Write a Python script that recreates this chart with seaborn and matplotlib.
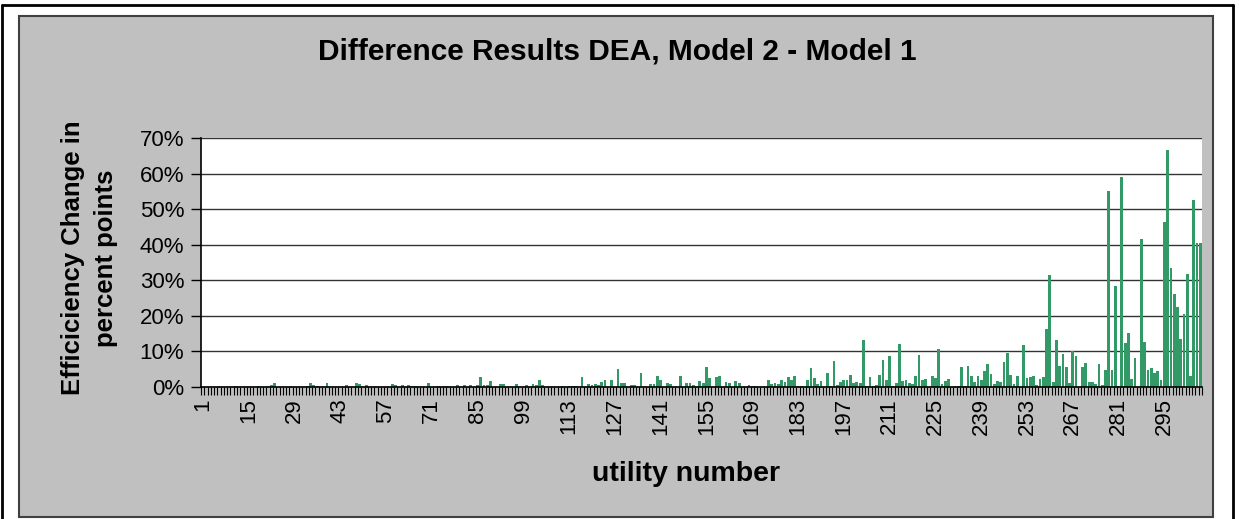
import numpy as np
import pandas as pd
import matplotlib
matplotlib.use("Agg")
import matplotlib.pyplot as plt
from matplotlib.patches import Rectangle
from matplotlib.lines import Line2D
from matplotlib.ticker import PercentFormatter, FixedLocator
import seaborn as sns

# Difference in efficiency (percentage points), utility 1..306
diff_pct = [
    0, 0, 0, 0, 0, 0.3, 0, 0, 0, 0, 0.3, 0, 0, 0,                      # 1-14
    0, 0, 0, 0.3, 0, 0, 0.2, 0.5, 1.2, 0, 0, 0, 0, 0.3,                # 15-28
    0, 0, 0, 0, 0.3, 1.0, 0.5, 0.4, 0, 0, 1.0, 0, 0, 0,                # 29-42
    0, 0, 0.5, 0, 0, 1.0, 0.8, 0, 0.5, 0, 0, 0.3, 0, 0,                # 43-56
    0, 0, 0.8, 0.5, 0, 0.5, 0, 0.5, 0.4, 0.3, 0, 0, 0, 1.1,            # 57-70
    0, 0, 0.3, 0, 0.4, 0.3, 0, 0, 0.7, 0, 0.7, 0, 0.6, 0,              # 71-84
    0.5, 2.8, 0.7, 0.6, 1.8, 0, 0, 0.9, 0.9, 0, 0, 0, 0.8, 0,          # 85-98
    0, 0.7, 0, 0.9, 0.7, 2.0, 0.5, 0, 0, 0, 0, 0, 0.3, 0,              # 99-112
    0.3, 0.4, 0.4, 0, 2.9, 0, 0.8, 0.6, 0.9, 0.5, 1.4, 1.9, 0, 1.9,    # 113-126
    0, 5.0, 1.2, 1.1, 0, 0.5, 0.5, 0, 3.8, 0, 0, 0.8, 0.8, 3.1,        # 127-140
    2.1, 0, 1.0, 0.8, 0, 0, 3.0, 0, 1.2, 1.1, 0.5, 0, 1.7, 1.1,        # 141-154
    5.5, 2.4, 0, 2.7, 3.0, 0, 1.4, 1.1, 0, 1.6, 1.0, 0, 0, 0.5,        # 155-168
    0.4, 0.4, 0, 0, 0, 1.9, 0.8, 1.2, 0.8, 1.9, 1.4, 2.8, 1.9, 3.0,    # 169-182
    0.3, 0.3, 0, 1.9, 5.4, 2.6, 0.8, 1.7, 0, 4.0, 0.3, 7.2, 0.5, 1.4,  # 183-196
    2.1, 1.9, 3.4, 1.2, 1.4, 1.0, 13.1, 0.2, 2.8, 0.3, 0.5, 3.5, 7.5, 1.9,   # 197-210
    8.6, 0.3, 1.2, 12.0, 1.7, 1.9, 1.0, 0.8, 3.0, 9.1, 2.1, 2.3, 0, 3.1,     # 211-224
    2.6, 10.7, 0.8, 1.6, 2.3, 0, 0.4, 0.4, 5.6, 0.3, 6.0, 3.0, 1.3, 3.2,     # 225-238
    1.9, 4.4, 6.4, 3.6, 0.9, 1.6, 1.3, 6.9, 9.6, 3.4, 0.9, 3.1, 0, 11.8,     # 239-252
    2.6, 2.8, 3.2, 0.7, 2.3, 2.8, 16.4, 31.5, 1.3, 13.1, 6.0, 9.4, 5.6, 1.1, # 253-266
    10.2, 8.6, 0, 5.5, 6.7, 1.3, 1.3, 0.8, 6.5, 0.5, 4.8, 55.0, 4.8, 28.3,   # 267-280
    0.3, 59.1, 12.3, 15.3, 2.3, 8.2, 0, 41.7, 12.6, 4.8, 5.4, 3.8, 4.5, 2.1, # 281-294
    46.4, 66.6, 33.4, 26.1, 22.4, 13.6, 20.5, 31.8, 3.0, 52.6, 40.4, 40.4,   # 295-306
]
utility = [str(i + 1) for i in range(len(diff_pct))]
y_ticks = [0, 0.1, 0.2, 0.3, 0.4, 0.5, 0.6, 0.7]

df = pd.DataFrame({"utility": utility, "diff": np.array(diff_pct) / 100.0})

sns.set_theme(style="white")
plt.rcParams["font.family"] = ["Liberation Sans", "DejaVu Sans"]
plt.rcParams["text.color"] = "black"
plt.rcParams["xtick.color"] = "black"
plt.rcParams["ytick.color"] = "black"

fig = plt.figure(figsize=(12.39, 5.19), dpi=100, facecolor="white")
ax = fig.add_axes([201 / 1239, 1 - 387 / 519, 1001 / 1239, 249 / 519])

# grey chart area and outer frame
fig.patches.append(Rectangle((19 / 1239, 1 - 517 / 519), 1194 / 1239, 501 / 519,
                             transform=fig.transFigure, facecolor="#c0c0c0",
                             edgecolor="#404040", lw=1.5, zorder=-10))
fig.lines.append(Line2D([1.5 / 1239, 1.5 / 1239], [0, 1 - 4.5 / 519],
                        transform=fig.transFigure, color="black", lw=2))
fig.lines.append(Line2D([1.5 / 1239, 1232.5 / 1239], [1 - 4.5 / 519, 1 - 4.5 / 519],
                        transform=fig.transFigure, color="black", lw=2))
fig.lines.append(Line2D([1232.5 / 1239, 1232.5 / 1239], [0, 1 - 4.5 / 519],
                        transform=fig.transFigure, color="black", lw=2))

sns.barplot(data=df, x="utility", y="diff", color="#339966", saturation=1,
            width=0.85, ax=ax, errorbar=None, linewidth=0)

ax.set_facecolor("white")
ax.set_xlim(-0.5, len(utility) - 0.5)
ax.set_ylim(0, 0.7)
ax.set_yticks(y_ticks)
ax.yaxis.set_major_formatter(PercentFormatter(xmax=1, decimals=0))
ax.yaxis.grid(True, color="#333333", lw=1)
ax.set_axisbelow(True)

pos = list(range(0, len(utility), 14))
ax.set_xticks(pos)
ax.set_xticklabels([utility[p] for p in pos], rotation=90)
ax.xaxis.set_minor_locator(FixedLocator(np.arange(-0.5, len(utility), 1)))
ax.tick_params(axis="x", which="major", length=0, pad=8, labelsize=16)
ax.tick_params(axis="x", which="minor", length=6, width=0.8, color="black", bottom=True)
ax.tick_params(axis="y", length=7, width=1, color="black", left=True, pad=5, labelsize=16)

for s in ["top", "right"]:
    ax.spines[s].set_visible(False)
for s in ["left", "bottom"]:
    ax.spines[s].set_color("black")
    ax.spines[s].set_linewidth(1.2)

ax.set_xlabel("")
ax.set_ylabel("")
fig.text(617 / 1239, 1 - 52 / 519, "Difference Results DEA, Model 2 - Model 1",
         ha="center", va="center", fontsize=21.5, fontweight="bold")
fig.text(686 / 1239, 1 - 474 / 519, "utility number",
         ha="center", va="center", fontsize=20.5, fontweight="bold")
fig.text(89.5 / 1239, 1 - 258 / 519, "Efficiciency Change in\npercent points",
         ha="center", va="center", rotation=90, fontsize=18.5, fontweight="bold",
         linespacing=1.45)

fig.savefig("out.png", dpi=100, facecolor="white")
